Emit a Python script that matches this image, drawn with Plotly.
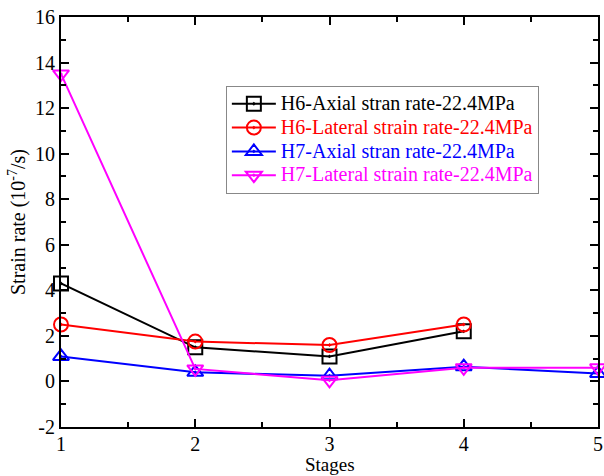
import plotly.graph_objects as go

stages_h6 = [1, 2, 3, 4]
stages_h7 = [1, 2, 3, 4, 5]
h6_axial = [4.3, 1.5, 1.1, 2.2]
h6_lateral = [2.5, 1.75, 1.6, 2.5]
h7_axial = [1.1, 0.4, 0.25, 0.65, 0.35]
h7_lateral = [13.5, 0.55, 0.05, 0.6, 0.6]

y_tickvals = [-2, 0, 2, 4, 6, 8, 10, 12, 14, 16]
y_ticktext = ["-2", "0", "2", "4", "6", "8", "10", "12", "14", "16"]

names = ["H6-Axial stran rate-22.4MPa", "H6-Lateral strain rate-22.4MPa",
         "H7-Axial stran rate-22.4MPa", "H7-Lateral strain rate-22.4MPa"]
colors = ["black", "red", "blue", "magenta"]
symbols = ["square-open-dot", "circle-open-dot", "triangle-up-open-dot", "triangle-down-open-dot"]
xs = [stages_h6, stages_h6, stages_h7, stages_h7]
ys = [h6_axial, h6_lateral, h7_axial, h7_lateral]

fig = go.Figure()
for x, y, n, c, s in zip(xs, ys, names, colors, symbols):
    fig.add_trace(go.Scatter(
        x=x, y=y, name=f'<span style="color:{c};font-size:20px">{n}</span>', mode="lines+markers",
        line=dict(color=c, width=2),
        marker=dict(symbol=s, size=14, color=c, line=dict(color=c, width=2)),
        cliponaxis=False,
    ))

axis_common = dict(
    showline=True, linecolor="black", linewidth=2, mirror="ticks",
    ticks="inside", tickcolor="black", tickwidth=2, ticklen=8,
    showgrid=False, zeroline=False, automargin=False,
    tickfont=dict(family="Liberation Serif", size=20, color="black"),
)

fig.update_layout(
    width=604, height=476,
    margin=dict(l=61, r=6, t=17, b=49),
    paper_bgcolor="white", plot_bgcolor="white",
    font=dict(family="Liberation Serif", color="black"),
    showlegend=True,
    legend=dict(
        x=0.307, y=0.832, xanchor="left", yanchor="top",
        bgcolor="white", bordercolor="#888888", borderwidth=1,
        font=dict(family="Liberation Serif", size=16),
        tracegroupgap=0, itemwidth=44,
    ),
    xaxis=dict(
        range=[1, 5], dtick=1, tick0=1,
        minor=dict(dtick=0.5, ticks="inside", ticklen=5, tickwidth=2, tickcolor="black"),
        ticklabelstandoff=-2,
        **axis_common,
    ),
    yaxis=dict(
        range=[-2, 16], tickvals=y_tickvals, ticktext=y_ticktext,
        minor=dict(dtick=1, ticks="inside", ticklen=5, tickwidth=2, tickcolor="black"),
        title=dict(text="Strain rate (10<sup>-7</sup>/s)", font=dict(family="Liberation Serif", size=20), standoff=4),
        **axis_common,
    ),
    annotations=[dict(
        text="Stages", xref="paper", yref="paper", x=0.5, y=-0.1195,
        xanchor="center", yanchor="bottom", showarrow=False, borderpad=0,
        font=dict(family="Liberation Serif", size=19, color="black"),
    )],
)

fig.write_html("out.html")
